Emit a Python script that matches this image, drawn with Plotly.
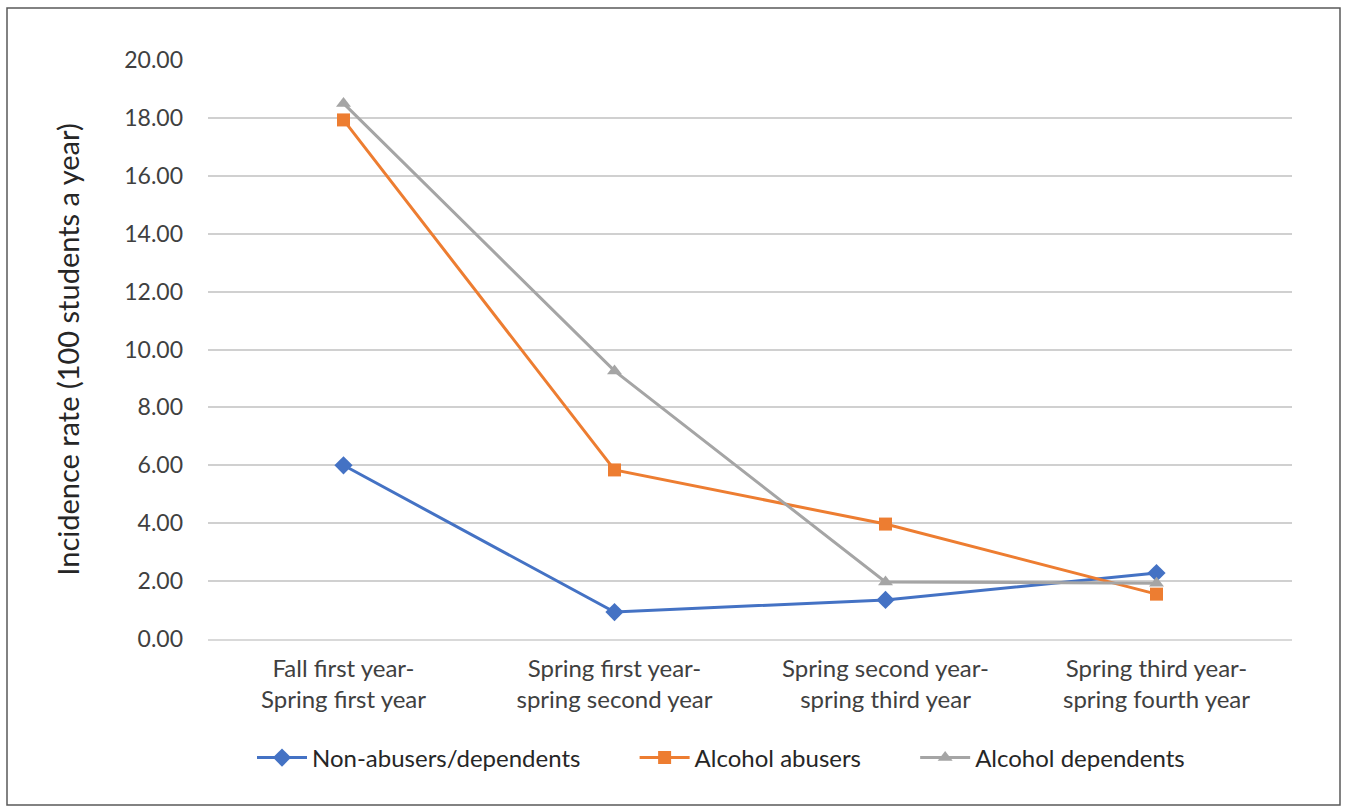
import plotly.graph_objects as go

categories = ["Fall first year-<br>Spring first year",
              "Spring first year-<br>spring second year",
              "Spring second year-<br>spring third year",
              "Spring third year-<br>spring fourth year"]
series_names = ["Non-abusers/dependents", "Alcohol abusers", "Alcohol dependents"]
non_abusers = [6.00, 0.93, 1.35, 2.28]
abusers = [17.93, 5.84, 3.97, 1.55]
dependents = [18.50, 9.26, 1.97, 1.93]
y_ticks = [0, 2, 4, 6, 8, 10, 12, 14, 16, 18, 20]

W, H = 1348, 811
ML, MR, MT, MB = 208, 56, 60, 172
FONT = "Lato, 'Open Sans', sans-serif"
PAD = "\u00a0" * 8

fig = go.Figure()
fig.add_trace(go.Scatter(x=categories, y=non_abusers, name=series_names[0] + PAD,
                         mode="lines+markers",
                         line=dict(color="#4472C4", width=3),
                         marker=dict(symbol="diamond", size=14, color="#4472C4")))
fig.add_trace(go.Scatter(x=categories, y=abusers, name=series_names[1] + PAD,
                         mode="lines+markers",
                         line=dict(color="#ED7D31", width=3),
                         marker=dict(symbol="square", size=13, color="#ED7D31")))
fig.add_trace(go.Scatter(x=categories, y=dependents, name=series_names[2],
                         mode="lines+markers",
                         line=dict(color="#A5A5A5", width=3),
                         marker=dict(symbol="triangle-up", size=13, color="#A5A5A5")))

pw = W - ML - MR
ph = H - MT - MB
def px_x(p): return (p - ML) / pw
def px_y(p): return (H - MB - p) / ph

fig.add_shape(type="rect", xref="paper", yref="paper",
              x0=px_x(7), x1=px_x(1340), y0=px_y(805), y1=px_y(8),
              line=dict(color="#595959", width=1.5), fillcolor="rgba(0,0,0,0)", layer="below")

fig.update_layout(
    width=W, height=H,
    margin=dict(l=ML, r=MR, t=MT, b=MB),
    paper_bgcolor="white", plot_bgcolor="white",
    font=dict(family=FONT, color="#262626", size=22),
    showlegend=True,
    legend=dict(orientation="h", x=px_x(252), xanchor="left", y=px_y(758), yanchor="middle",
                font=dict(size=24, color="#262626"), itemwidth=50,
                traceorder="normal"),
    xaxis=dict(type="category", showgrid=False, showline=True, linecolor="#D9D9D9", linewidth=1.5,
               tickfont=dict(size=24, color="#404040"), ticks="", ticklabelstandoff=7,
               range=[-0.5, 3.5], fixedrange=True),
    yaxis=dict(range=[0, 20], tickvals=y_ticks, tickformat=".2f",
               showgrid=True, gridcolor="#D0D0D0", gridwidth=1.5, zeroline=False,
               showline=False, ticks="", ticklabelstandoff=24,
               tickfont=dict(size=23, color="#404040"),
               title=dict(text="Incidence rate (100 students a year)", standoff=36,
                          font=dict(size=29, color="#262626")),
               fixedrange=True),
)

fig.write_html("out.html")
